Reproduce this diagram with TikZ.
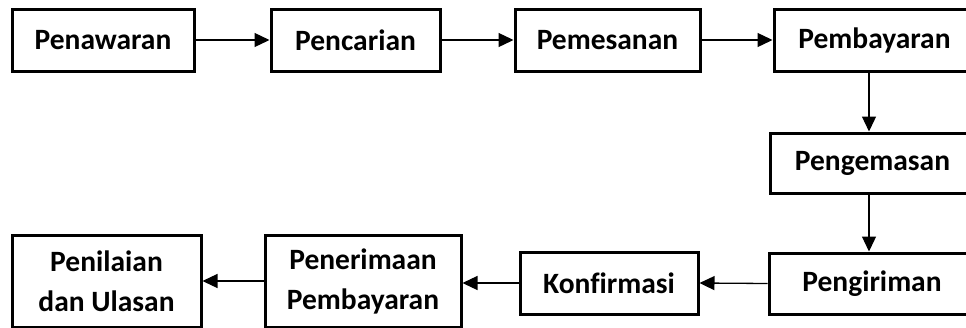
\documentclass[tikz,border=0pt]{standalone}
\usepackage{fontspec}
\setmainfont[Ligatures=NoCommon]{Carlito}
\usetikzlibrary{arrows.meta}
\begin{document}
\begin{tikzpicture}[x=1pt,y=-1pt,
  box/.style={draw=black, line width=3pt, rectangle, inner sep=0pt, align=center,
    font=\fontsize{29.5}{40}\selectfont\bfseries, text=black},
  arr/.style={line width=1.3pt, -{Triangle[length=15pt,width=14pt]}}]
\useasboundingbox (0,0) rectangle (966,327);
\clip (0,0) rectangle (966,327);
\fill[white] (0,0) rectangle (966,327);
\node[box, minimum width=182pt, minimum height=62pt] (pnw) at (103,40) {Penawaran};
\node[box, minimum width=169pt, minimum height=62pt] (pnc) at (355.5,40) {Pencarian};
\node[box, minimum width=185pt, minimum height=62pt] (pms) at (607.5,40) {Pemesanan};
\node[box, minimum width=201pt, minimum height=62pt] (pmb) at (874.5,40) {Pembayaran};
\node[box, minimum width=205pt, minimum height=60pt] (pgm) at (872.5,163) {Pengemasan};
\node[box, minimum width=206pt, minimum height=61pt] (pgr) at (872,283.5) {Pengiriman};
\node[box, minimum width=178pt, minimum height=62pt] (knf) at (609,283) {Konfirmasi};
\node[box, minimum width=196pt, minimum height=92pt] (pnr) at (363,281) {Penerimaan\\Pembayaran};
\node[box, minimum width=189pt, minimum height=92pt] (pnl) at (106.5,281) {Penilaian\\dan Ulasan};
\coordinate (vx) at (869,0);
\draw[arr] (pnw.east) -- (pnc.west);
\draw[arr] (pnc.east) -- (pms.west);
\draw[arr] (pms.east) -- (pmb.west);
\draw[arr] (pmb.south -| vx) -- (pgm.north -| vx);
\draw[arr] (pgm.south -| vx) -- (pgr.north -| vx);
\draw[arr] (pgr.west) -- (knf.east);
\draw[arr] (knf.west) -- (pnr.east |- knf.west);
\draw[arr] (pnr.west) -- (pnl.east);
\end{tikzpicture}
\end{document}
